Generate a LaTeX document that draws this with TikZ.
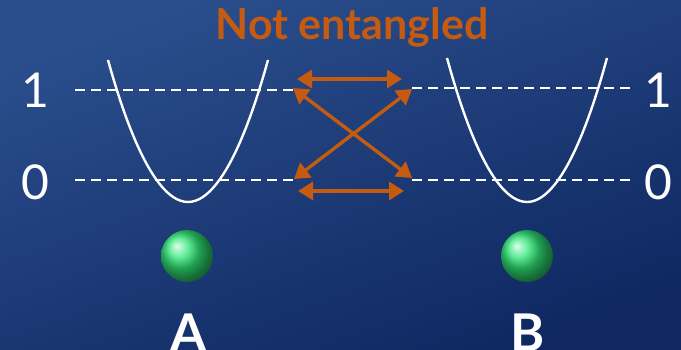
\documentclass[tikz,border=0pt]{standalone}
\usepackage{fontspec}
\setmainfont{Lato}
\usetikzlibrary{arrows.meta}

\definecolor{bgtop}{HTML}{2A4E8C}
\definecolor{bgbot}{HTML}{0F2862}
\definecolor{arroworange}{HTML}{C55A11}
\definecolor{ballgreen}{HTML}{30E878}

\begin{document}
\begin{tikzpicture}[x=1pt,y=-1pt]
  \tikzstyle{level}=[white,line width=2.2pt,dash pattern=on 10pt off 6pt]
  \tikzstyle{well}=[white,line width=2.4pt]
  \tikzstyle{swap}=[arroworange,line width=3.4pt,{Triangle[length=15pt,width=18pt]}-{Triangle[length=15pt,width=18pt]}]
  \tikzstyle{levelnum}=[text=white,font=\fontsize{48}{48}\selectfont]
  \tikzstyle{qubit}=[circle,minimum size=52pt,inner sep=0pt,ball color=ballgreen]
  \tikzstyle{qubitname}=[text=white,font=\fontsize{52}{52}\selectfont\bfseries]

  % background
  \shade[top color=bgtop,bottom color=bgbot,shading angle=20] (0,0) rectangle (681,350);
  \useasboundingbox (0,0) rectangle (681,350);

  % energy levels
  \draw[level] (75,90) -- (295,90);
  \draw[level] (75,180) -- (295,180);
  \draw[level] (412,88) -- (632,88);
  \draw[level] (412,180) -- (632,180);

  \node[levelnum] (L1) at (35,90) {1};
  \node[levelnum] (L0) at (35,182) {0};
  \node[levelnum] (R1) at (658,90) {1};
  \node[levelnum] (R0) at (658,182) {0};

  % potential wells
  \draw[well] (108,60) parabola bend (188,202) (268,60);
  \draw[well] (447,58) parabola bend (527,202) (607,58);

  % transitions
  \coordinate (a1) at (297,79);
  \coordinate (b1) at (402,79);
  \coordinate (a0) at (298,191);
  \coordinate (b0) at (404,191);
  \coordinate (c1) at (293,88);
  \coordinate (c0) at (294,179);
  \coordinate (d1) at (412,89);
  \coordinate (d0) at (412,178);
  \draw[swap] (a1) -- (b1);
  \draw[swap] (a0) -- (b0);
  \draw[swap] (c1) -- (d0);
  \draw[swap] (c0) -- (d1);

  \node[text=arroworange,font=\fontsize{43}{43}\selectfont\bfseries] (title) at (352,27) {Not entangled};

  % particles
  \node[qubit] (ballA) at (187,256) {};
  \node[qubit] (ballB) at (527,256) {};
  \node[qubitname] (A) at (189,333) {A};
  \node[qubitname] (B) at (528,333) {B};
\end{tikzpicture}
\end{document}
